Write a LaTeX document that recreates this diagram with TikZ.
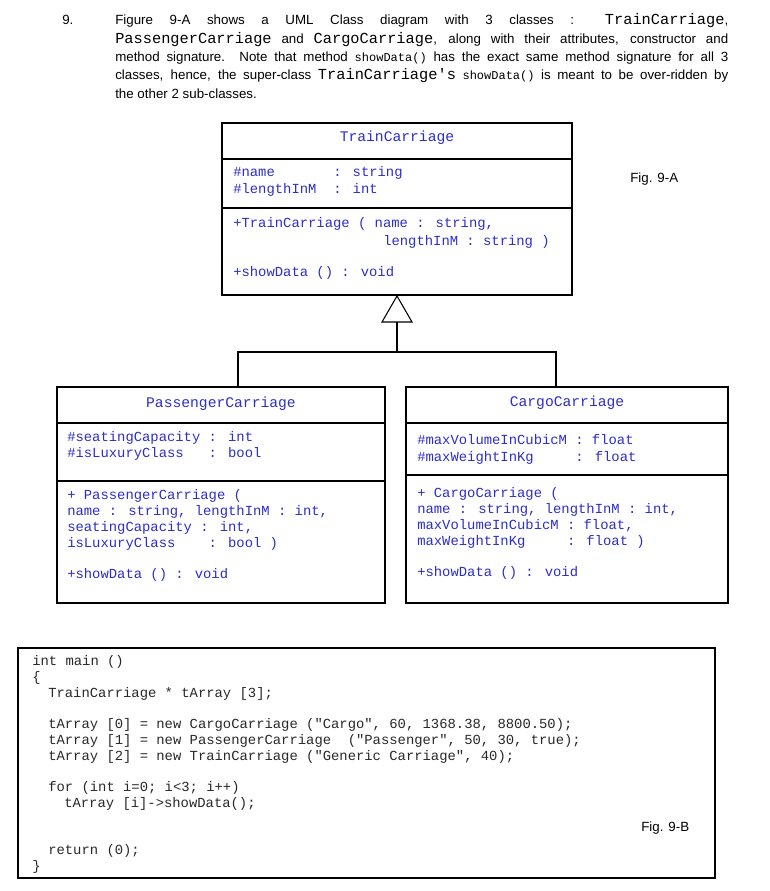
\documentclass[tikz,border=0pt]{standalone}
\usepackage{fontspec}
\setmainfont{Liberation Sans}
\newfontfamily\mono{Liberation Mono}
\definecolor{umlblue}{RGB}{45,45,200}
\definecolor{codegray}{RGB}{40,40,40}
\newcommand{\mA}[1]{{\mono\fontsize{11.5pt}{12pt}\selectfont #1}}
\newcommand{\mB}[1]{{\mono\fontsize{9pt}{10pt}\selectfont #1}}
\newlength{\parw}
\setlength{\parw}{459.75pt}
\begin{document}
\begin{tikzpicture}[x=0.75pt,y=-0.75pt,
  box/.style={draw,line width=0.8pt},
  uml/.style={anchor=base west,inner sep=0,text=umlblue,font=\mono\fontsize{10.4pt}{12pt}\selectfont},
  umlt/.style={anchor=base,inner sep=0,text=umlblue,font=\mono\fontsize{11pt}{12pt}\selectfont},
  code/.style={anchor=base west,inner sep=0,text=codegray,font=\mono\fontsize{10.4pt}{12pt}\selectfont},
  body/.style={anchor=base west,inner sep=0,font=\fontsize{10pt}{12pt}\selectfont}]
\useasboundingbox (0,0) rectangle (769,891);
% question text
\node[body] (qn) at (62,25) {9.};
\node[body] (p1) at (115,25) {\makebox[\parw][s]{Figure 9-A shows a UML Class diagram with 3 classes : \mA{TrainCarriage},}};
\node[body] (p2) at (115,44) {\makebox[\parw][s]{\mA{PassengerCarriage} and \mA{CargoCarriage}, along with their attributes, constructor and}};
\node[body] (p3) at (115,62) {\makebox[\parw][s]{method signature. Note that method \mB{showData()} has the exact same method signature for all 3}};
\node[body] (p4) at (115,80) {\makebox[\parw][s]{classes, hence, the super-class \mA{TrainCarriage's} \mB{showData()} is meant to be over-ridden by}};
\node[body] (p5) at (115,99) {the other 2 sub-classes.};
% TrainCarriage
\draw[box] (222,123) rectangle (572,295);
\draw[box] (222,159) -- (572,159);
\draw[box] (222,208) -- (572,208);
\node[umlt] (tt) at (397,142) {TrainCarriage};
\node[uml] (t1) at (233,177) {\#name};
\node[uml] (t1b) at (333,177) {: string};
\node[uml] (t2) at (233,194) {\#lengthInM};
\node[uml] (t2b) at (333,194) {: int};
\node[uml] (t3) at (233,228) {+TrainCarriage ( name : string,};
\node[uml] (t4) at (383,245) {lengthInM : string )};
\node[uml] (t5) at (233,276) {+showData () : void};
\node[body] (f1) at (630,183) {Fig. 9-A};
% inheritance
\coordinate (ap) at (397,296);
\coordinate (bj) at (397,352);
\draw[box] (ap) -- (382,322) -- (412,322) -- cycle;
\draw[box] (397,322) -- (bj);
\draw[box] (238,387) -- (238,352) -- (556,352) -- (556,387);
% Passenger
\draw[box] (57,387) rectangle (385,603);
\draw[box] (57,423) -- (385,423);
\draw[box] (57,481) -- (385,481);
\node[umlt] (pt) at (221,407) {PassengerCarriage};
\node[uml] (pa1) at (67,441) {\#seatingCapacity : int};
\node[uml] (pa2) at (67,457) {\#isLuxuryClass~~~: bool};
\node[uml] (pc1) at (67,499) {+ PassengerCarriage (};
\node[uml] (pc2) at (67,515) {name : string, lengthInM : int,};
\node[uml] (pc3) at (67,531) {seatingCapacity : int,};
\node[uml] (pc4) at (67,547) {isLuxuryClass~~~~: bool )};
\node[uml] (pc5) at (67,578) {+showData () : void};
% Cargo
\draw[box] (406,387) rectangle (728,603);
\draw[box] (406,423) -- (728,423);
\draw[box] (406,475) -- (728,475);
\node[umlt] (ct) at (567,406) {CargoCarriage};
\node[uml] (ca1) at (417,444) {\#maxVolumeInCubicM : float};
\node[uml] (ca2) at (417,461) {\#maxWeightInKg~~~~~: float};
\node[uml] (cc1) at (417,497) {+ CargoCarriage (};
\node[uml] (cc2) at (417,513) {name : string, lengthInM : int,};
\node[uml] (cc3) at (417,529) {maxVolumeInCubicM : float,};
\node[uml] (cc4) at (417,545) {maxWeightInKg~~~~~: float )};
\node[uml] (cc5) at (417,576) {+showData () : void};
% code box
\draw[box] (18,648) rectangle (715,878);
\node[code] (k1) at (32,665) {int main ()};
\node[code] (k2) at (32,681) {\{};
\node[code] (k3) at (48,697) {TrainCarriage * tArray [3];};
\node[code] (k4) at (48,728) {tArray [0] = new CargoCarriage ("Cargo", 60, 1368.38, 8800.50);};
\node[code] (k5) at (48,744) {tArray [1] = new PassengerCarriage~~("Passenger", 50, 30, true);};
\node[code] (k6) at (48,760) {tArray [2] = new TrainCarriage ("Generic Carriage", 40);};
\node[code] (k7) at (48,791) {for (int i=0; i<3; i++)};
\node[code] (k8) at (64,807) {tArray [i]->showData();};
\node[code] (k9) at (48,854) {return (0);};
\node[code] (k10) at (32,870) {\}};
\node[body] (f2) at (641,831) {Fig. 9-B};
\end{tikzpicture}
\end{document}
